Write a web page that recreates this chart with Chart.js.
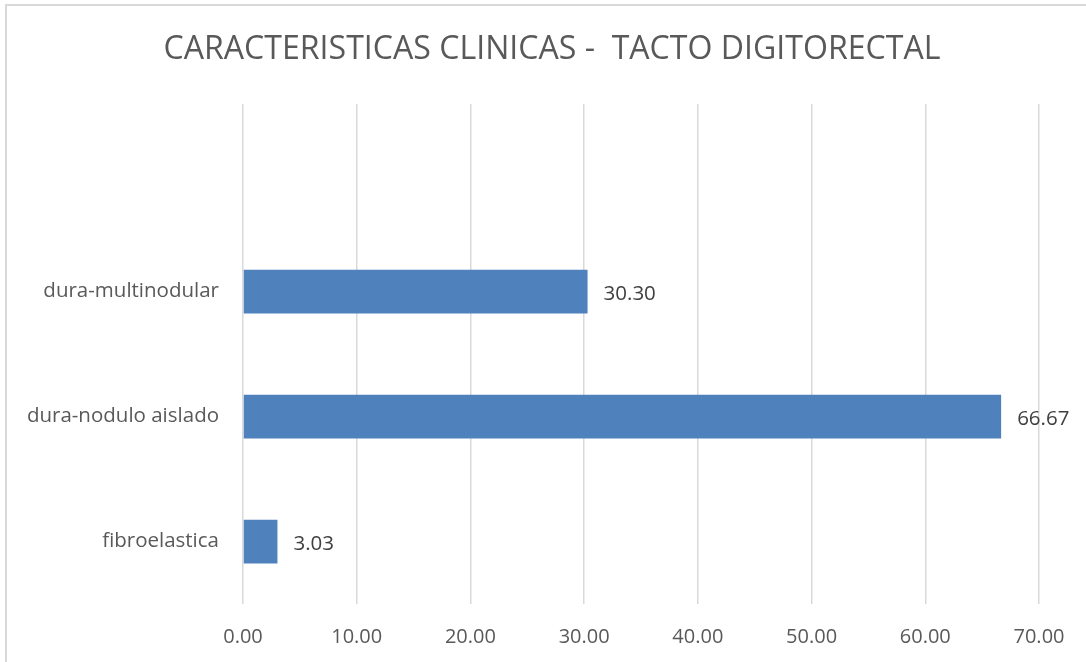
<!DOCTYPE html>
<html>
<head>
<meta charset="utf-8">
<script src="https://cdn.jsdelivr.net/npm/chart.js@4/dist/chart.umd.min.js"></script>
<style>
  html, body { margin: 0; padding: 0; background: #ffffff; overflow: hidden; }
  #frame { position: absolute; left: 5px; top: 4px; width: 1200px; height: 800px; border: 2px solid #d9d9d9; box-sizing: border-box; }
  #wrap { position: absolute; left: 0; top: 0; width: 1086px; height: 662px; }
</style>
</head>
<body>
<div id="frame"></div>
<div id="wrap"><canvas id="c" width="1086" height="662"></canvas></div>
<script>
const titleText = 'CARACTERISTICAS CLINICAS -  TACTO DIGITORECTAL';
const categories = ['', 'dura-multinodular', 'dura-nodulo aislado', 'fibroelastica'];
const values = [null, 30.30, 66.67, 3.03];
const xTicks = [0, 10, 20, 30, 40, 50, 60, 70];

const normal = "'Open Sans', 'Noto Sans', sans-serif";

const titleDraw = {
  id: 'titleDraw',
  afterDraw(chart) {
    const ctx = chart.ctx;
    ctx.save();
    ctx.font = '32px ' + normal;
    ctx.fillStyle = '#595959';
    ctx.textAlign = 'center';
    ctx.textBaseline = 'middle';
    const w = ctx.measureText(titleText).width;
    const sx = 777 / w;
    ctx.translate(552, 50);
    ctx.scale(sx, 1);
    ctx.fillText(titleText, 0, 0);
    ctx.restore();
  }
};

const valueLabels = {
  id: 'valueLabels',
  afterDatasetsDraw(chart) {
    const ctx = chart.ctx;
    const meta = chart.getDatasetMeta(0);
    ctx.save();
    ctx.font = '20.5px ' + normal;
    ctx.fillStyle = '#404040';
    ctx.textAlign = 'left';
    ctx.textBaseline = 'middle';
    meta.data.forEach((bar, i) => {
      const v = values[i];
      if (v === null || v === undefined) return;
      ctx.fillText(v.toFixed(2), bar.x + 16, bar.y + 3);
    });
    ctx.restore();
  }
};

new Chart(document.getElementById('c'), {
  type: 'bar',
  data: {
    labels: categories,
    datasets: [{
      data: values,
      backgroundColor: '#4f81bd',
      borderWidth: 0,
      categoryPercentage: 1.0,
      barPercentage: 0.35
    }]
  },
  options: {
    indexAxis: 'y',
    responsive: false,
    animation: false,
    devicePixelRatio: 1,
    layout: { padding: { left: 0, right: 47, top: 104, bottom: 0 } },
    plugins: {
      legend: { display: false },
      tooltip: { enabled: false },
      title: { display: false }
    },
    scales: {
      x: {
        min: 0, max: 70,
        afterBuildTicks(scale) { scale.ticks = xTicks.map(v => ({ value: v })); },
        afterFit(scale) { scale.height = 58; },
        border: { display: false },
        grid: { color: '#d9d9d9', lineWidth: 1.5, drawTicks: false },
        ticks: {
          padding: 21,
          color: '#595959',
          font: { family: normal, size: 20 },
          callback: (v) => Number(v).toFixed(2),
          maxRotation: 0
        }
      },
      y: {
        afterFit(scale) { scale.width = 243; },
        border: { display: false },
        grid: { display: false, drawTicks: false },
        ticks: {
          padding: 24,
          color: '#595959',
          font: { family: normal, size: 20.5 }
        }
      }
    }
  },
  plugins: [valueLabels, titleDraw]
});
</script>
</body>
</html>
